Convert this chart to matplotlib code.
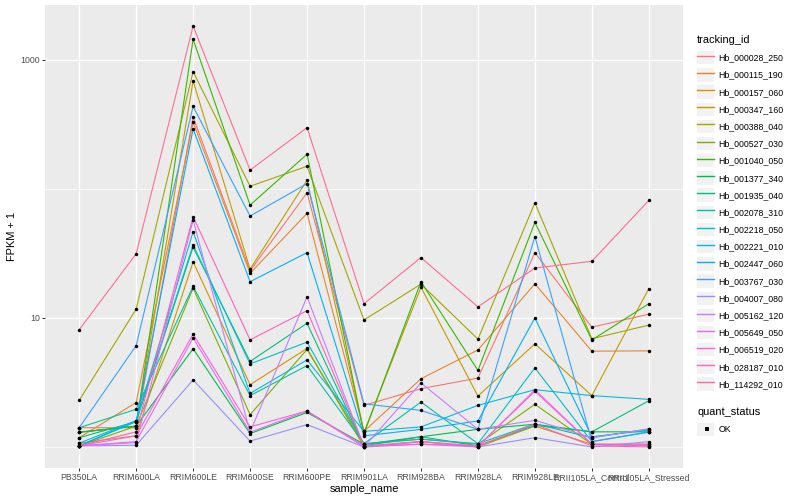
import matplotlib
matplotlib.use("Agg")
import matplotlib.pyplot as plt
import numpy as np
from matplotlib.lines import Line2D
from matplotlib.patches import Rectangle
from matplotlib.ticker import FixedLocator, NullFormatter

plt.rcParams['font.family'] = ['Liberation Sans', 'DejaVu Sans']

samples = ['PB350LA', 'RRIM600LA', 'RRIM600LE', 'RRIM600SE', 'RRIM600PE',
           'RRIM901LA', 'RRIM928BA', 'RRIM928LA', 'RRIM928LE',
           'RRII105LA_Control', 'RRII105LA_Stressed']

tracking_ids = ['Hb_000028_250', 'Hb_000115_190', 'Hb_000157_060', 'Hb_000347_160',
                'Hb_000388_040', 'Hb_000527_030', 'Hb_001040_050', 'Hb_001377_340',
                'Hb_001935_040', 'Hb_002078_310', 'Hb_002218_050', 'Hb_002221_010',
                'Hb_002447_060', 'Hb_003767_030', 'Hb_004007_080', 'Hb_005162_120',
                'Hb_005649_050', 'Hb_006519_020', 'Hb_028187_010', 'Hb_114292_010']

# ggplot default hue palette for 20 levels
colors = ['#F8766D', '#EA8331', '#D89000', '#C09B00', '#A3A500', '#7CAE00',
          '#39B600', '#00BB4E', '#00BF7D', '#00C1A3', '#00BFC4', '#00BAE0',
          '#00B0F6', '#35A2FF', '#9590FF', '#C77CFF', '#E76BF3', '#FA62DB',
          '#FF62BC', '#FF6C91']

# FPKM + 1, one row per tracking_id, one column per sample
fpkm = [
    [1.41, 1.41, 361, 23.2, 93.5, 2.10, 2.83, 3.42, 32.1, 8.48, 10.7],
    [1.18, 2.21, 330, 22.2, 64.7, 1.32, 3.38, 5.65, 18.4, 5.53, 5.56],
    [1.07, 1.22, 27.2, 3.04, 5.8, 1.00, 1.10, 1.00, 1.45, 1.05, 1.05],
    [1.30, 1.45, 689, 23.9, 117, 1.30, 17.3, 2.48, 6.3, 2.50, 16.9],
    [2.30, 11.7, 813, 105, 150, 9.65, 18.3, 6.85, 78.2, 6.90, 8.8],
    [1.02, 1.45, 17.0, 1.78, 5.7, 1.05, 1.15, 1.05, 2.14, 1.05, 1.02],
    [1.30, 1.45, 1450, 75, 186, 1.27, 19.1, 3.92, 55.1, 6.75, 12.9],
    [1.30, 1.45, 5.77, 1.27, 1.85, 1.05, 1.20, 1.37, 1.50, 1.31, 1.31],
    [1.18, 1.57, 35.5, 4.6, 9.1, 1.02, 1.20, 1.02, 1.47, 1.31, 2.28],
    [1.41, 1.96, 17.6, 2.5, 4.27, 1.06, 2.23, 1.06, 1.51, 1.18, 1.38],
    [1.07, 1.60, 36.8, 4.4, 6.5, 1.06, 1.15, 1.06, 4.1, 1.10, 1.31],
    [1.02, 1.60, 46.6, 2.6, 4.73, 1.32, 1.43, 2.10, 2.78, 2.50, 2.34],
    [1.02, 1.57, 293, 19.1, 32.1, 1.22, 1.37, 1.59, 10.0, 1.20, 1.35],
    [1.41, 6.10, 436, 61.7, 110, 2.16, 1.92, 1.37, 42.8, 1.10, 1.30],
    [1.02, 1.03, 3.31, 1.11, 1.49, 1.00, 1.05, 1.00, 1.18, 1.00, 1.10],
    [1.02, 1.08, 57.4, 1.30, 14.6, 1.00, 3.14, 1.37, 1.61, 1.18, 1.38],
    [1.02, 1.10, 7.0, 1.30, 1.90, 1.00, 1.10, 1.00, 2.78, 1.05, 1.02],
    [1.02, 1.22, 7.5, 1.43, 1.90, 1.02, 1.05, 1.02, 2.70, 1.05, 1.05],
    [1.02, 1.31, 61, 6.76, 11.4, 1.02, 1.10, 1.02, 1.50, 1.02, 1.00],
    [8.1, 31.4, 1833, 140, 299, 12.9, 29.4, 12.2, 24.4, 27.5, 81.5],
]

fig = plt.figure(figsize=(800 / 72, 500 / 72), dpi=72)
ax = fig.add_axes([45 / 800, 32 / 500, 638 / 800, 463 / 500])
ax.set_facecolor('#EBEBEB')

x = np.arange(len(samples))
for vals, col in zip(fpkm, colors):
    ax.plot(x, vals, color=col, lw=1.1, zorder=2)
for vals in fpkm:
    ax.scatter(x, vals, s=12, color='black', zorder=3, linewidths=0)

ax.set_yscale('log')
allv = np.log10(np.array(fpkm))
lo, hi = allv.min(), allv.max()
pad = 0.05 * (hi - lo)
ax.set_ylim(10 ** (lo - pad), 10 ** (hi + pad))
ax.set_xlim(-0.6, len(samples) - 0.4)

ax.yaxis.set_major_locator(FixedLocator([10, 1000]))
ax.yaxis.set_minor_locator(FixedLocator([1, 100]))
ax.yaxis.set_minor_formatter(NullFormatter())
ax.set_yticklabels(['10', '1000'])
ax.set_xticks(x)
ax.set_xticklabels(samples)

ax.grid(which='major', color='white', lw=1.3, zorder=0)
ax.grid(which='minor', axis='y', color='white', lw=0.7, zorder=0)
ax.set_axisbelow(True)
for s in ax.spines.values():
    s.set_visible(False)
ax.tick_params(which='major', length=2.75, width=1, color='#333333',
               labelcolor='#4D4D4D', labelsize=8.8, pad=2)
ax.tick_params(which='minor', length=0)

ax.set_xlabel('sample_name', fontsize=11, labelpad=2)
ax.set_ylabel('FPKM + 1', fontsize=11, labelpad=4)

# legends (titles placed as text, keys as legends)
fig.text(697 / 800, 1 - 40 / 500, 'tracking_id', fontsize=11, va='center')
handles = [(Rectangle((0, 0), 1, 1, facecolor='#F2F2F2', edgecolor='none'),
            Line2D([], [], color=c, lw=1.4)) for c in colors]
fig.legend(handles, tracking_ids, loc='upper left',
           bbox_to_anchor=(690 / 800, 1 - 44 / 500), frameon=False,
           fontsize=8.8, handlelength=1.95, handleheight=1.95,
           labelspacing=0.44, handletextpad=0.45, borderpad=0.3)

fig.text(697 / 800, 1 - 412 / 500, 'quant_status', fontsize=11, va='center')
h2 = [(Rectangle((0, 0), 1, 1, facecolor='#F2F2F2', edgecolor='none'),
       Line2D([], [], color='black', marker='s', ls='none', markersize=3))]
fig.legend(h2, ['OK'], loc='upper left',
           bbox_to_anchor=(690 / 800, 1 - 416 / 500), frameon=False,
           fontsize=8.8, handlelength=1.95, handleheight=1.95,
           labelspacing=0.44, handletextpad=0.45, borderpad=0.3)

fig.savefig('out.png', dpi=72)
